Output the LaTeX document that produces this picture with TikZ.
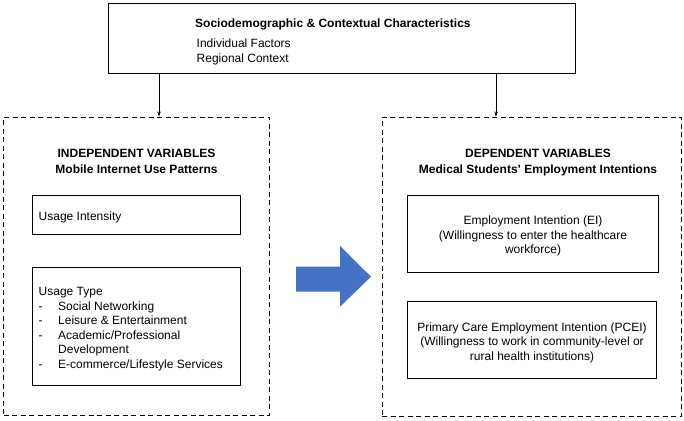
\documentclass[tikz,border=0pt]{standalone}
\usepackage{fontspec}
\setmainfont{Liberation Sans}
\usetikzlibrary{arrows.meta}
\definecolor{arrowblue}{HTML}{4472C4}
\begin{document}
\begin{tikzpicture}[x=1pt,y=-1pt,
  solidbox/.style={draw=black, line width=0.9pt, inner sep=0pt},
  dashbox/.style={draw=black, line width=0.9pt, dash pattern=on 5pt off 3.5pt, inner sep=0pt},
  txt/.style={inner sep=0pt, font=\fontsize{12}{14.5}\selectfont},
  btxt/.style={inner sep=0pt, font=\fontsize{12}{16}\selectfont\bfseries},
  conn/.style={draw=black, line width=0.8pt, -{Stealth[length=5pt,width=3.5pt]}}
]
\useasboundingbox (0,0) rectangle (684,420);
% boxes
\node[solidbox, minimum width=467pt, minimum height=70pt] (top) at (341.5,38) {};
\node[dashbox, minimum width=266pt, minimum height=298pt] (ind) at (136.5,266) {};
\node[dashbox, minimum width=299pt, minimum height=299pt] (dep) at (531.5,266.5) {};
\node[solidbox, minimum width=208pt, minimum height=39pt] (ui) at (136,214.5) {};
\node[solidbox, minimum width=208pt, minimum height=118pt] (ut) at (136,326) {};
\node[solidbox, minimum width=251pt, minimum height=77pt] (ei) at (532.5,233.5) {};
\node[solidbox, minimum width=249pt, minimum height=77pt] (pcei) at (531.5,339.5) {};
% top texts
\node[btxt, anchor=base west] (toptitle) at (195,28) {Sociodemographic \& Contextual Characteristics};
\node[txt, anchor=base west] (indiv) at (196.5,47.5) {Individual Factors};
\node[txt, anchor=base west] (reg) at (196.5,63) {Regional Context};
% headers (anchor base = baseline of last line)
\node[btxt, anchor=base, align=center] (indh) at (136.5,173.5) {INDEPENDENT VARIABLES\\Mobile Internet Use Patterns};
\node[btxt, anchor=base, align=center] (deph) at (538,173.5) {DEPENDENT VARIABLES\\Medical Students’ Employment Intentions};
% inner texts
\node[txt, anchor=base west] (uitxt) at (38.5,220) {Usage Intensity};
\node[txt, anchor=base west, align=left] (uttxt) at (38.5,368) {Usage Type\\
\makebox[19.5pt][l]{-}Social Networking\\
\makebox[19.5pt][l]{-}Leisure \& Entertainment\\
\makebox[19.5pt][l]{-}Academic/Professional\\
\hspace*{19.5pt}Development\\
\makebox[19.5pt][l]{-}E-commerce/Lifestyle Services};
\node[txt, anchor=base, align=center] (eitxt) at (533,253.5) {Employment Intention (EI)\\(Willingness to enter the healthcare\\workforce)};
\node[txt, anchor=base, align=center] (pceitxt) at (532,360) {Primary Care Employment Intention (PCEI)\\(Willingness to work in community-level or\\rural health institutions)};
% connectors
\coordinate (xl) at (159,0);
\coordinate (xr) at (496,0);
\draw[conn] (top.south -| xl) -- (ind.north -| xl);
\draw[conn] (top.south -| xr) -- (dep.north -| xr);
% big blue arrow
\fill[arrowblue] (296,266.7) -- (340,266.7) -- (340,246) -- (371,276.7) -- (340,306.7) -- (340,291.7) -- (296,291.7) -- cycle;
\end{tikzpicture}
\end{document}
